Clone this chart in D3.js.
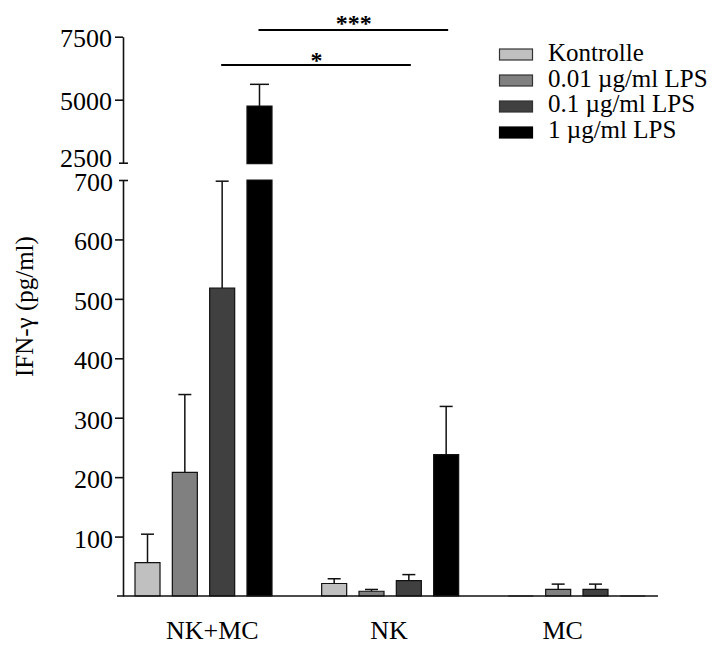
<!DOCTYPE html>
<html>
<head>
<meta charset="utf-8">
<script src="https://cdn.jsdelivr.net/npm/d3@7"></script>
<style>
  html, body { margin: 0; padding: 0; background: #fff; }
  svg { display: block; }
  text { font-family: "Liberation Serif", "Times New Roman", serif; fill: #000; }
</style>
</head>
<body>
<svg id="chart" width="720" height="646"></svg>
<script>
// IFN-γ release (pg/ml), mean and SD per culture and LPS dose
const groups = ["NK+MC", "NK", "MC"];
const seriesNames = ["Kontrolle", "0.01 µg/ml LPS", "0.1 µg/ml LPS", "1 µg/ml LPS"];
const kontrolle = [56, 21, 0];
const lps001 = [208, 8, 11];
const lps01 = [518, 26, 11];
const lps1 = [4750, 238, 0];
const sdKontrolle = [48, 8, 0];
const sdLps001 = [131, 3, 9];
const sdLps01 = [180, 10, 9];
const sdLps1 = [860, 81, 0];
const lowTicks = [100, 200, 300, 400, 500, 600, 700];
const highTicks = [2500, 5000, 7500];
const significance = [
  { a: "NK+MC", b: "NK", s: "0.1 µg/ml LPS", label: "*" },
  { a: "NK+MC", b: "NK", s: "1 µg/ml LPS", label: "***" }
];

const means = [kontrolle, lps001, lps01, lps1];
const sds = [sdKontrolle, sdLps001, sdLps01, sdLps1];
const fills = ["#c0c0c0", "#808080", "#404040", "#000000"];

const svg = d3.select("#chart");

// broken y axis: lower segment 0–700, upper segment 2500–7500
const breakLow = 700, breakHigh = 2500;
const yLow = d3.scaleLinear().domain([0, 700]).range([596, 180]);
const yHigh = d3.scaleLinear().domain([2500, 7500]).range([162.7, 36.7]);

const x0 = d3.scaleBand().domain(groups).range([110, 670]).paddingInner(0).paddingOuter(0);
const x1 = d3.scaleBand().domain(seriesNames).range([25, 162]).paddingInner(0.33).paddingOuter(0);

const rows = [];
groups.forEach((g, gi) => {
  seriesNames.forEach((s, si) => {
    rows.push({ g, s, si, v: means[si][gi], sd: sds[si][gi] });
  });
});

function barPath(x, w, yTop, yBottom) {
  return `M${x},${yBottom}V${yTop}H${x + w}V${yBottom}Z`;
}

const bw = x1.bandwidth();
const barG = svg.append("g");

rows.forEach(r => {
  const x = x0(r.g) + x1(r.s);
  // lower segment
  barG.append("path")
    .attr("d", barPath(x, bw, yLow(Math.min(r.v, breakLow)), yLow(0)))
    .attr("fill", fills[r.si])
    .attr("stroke", "#111")
    .attr("stroke-width", 1.2);
  // upper segment for values beyond the break
  if (r.v > breakHigh) {
    barG.append("path")
      .attr("d", barPath(x, bw, yHigh(r.v), yHigh(breakHigh) + 1))
      .attr("fill", fills[r.si])
      .attr("stroke", "#111")
      .attr("stroke-width", 1.2);
  }
});

// error bars (upper whisker only)
rows.filter(r => r.sd > 0).forEach(r => {
  const cx = x0(r.g) + x1(r.s) + bw / 2;
  const upper = r.v > breakHigh;
  const y = upper ? yHigh : yLow;
  const cap = upper ? 19 : 13;
  const g = svg.append("g").attr("stroke", "#111").attr("stroke-width", 1.5);
  g.append("line").attr("x1", cx).attr("x2", cx).attr("y1", y(r.v)).attr("y2", y(r.v + r.sd));
  g.append("line").attr("x1", cx - cap / 2).attr("x2", cx + cap / 2)
    .attr("y1", y(r.v + r.sd)).attr("y2", y(r.v + r.sd));
});

// x baseline and group labels
svg.append("line")
  .attr("x1", 117).attr("x2", 658).attr("y1", yLow(0)).attr("y2", yLow(0))
  .attr("stroke", "#111").attr("stroke-width", 1.6);

const labelShift = [9, -1, -14];
svg.append("g").selectAll("text").data(groups).join("text")
  .attr("x", (d, i) => x0(d) + x0.bandwidth() / 2 + labelShift[i])
  .attr("y", 639)
  .attr("text-anchor", "middle")
  .attr("font-size", 26)
  .text(d => d);

// y axes
function styleAxis(g, breakValue, dyPx) {
  g.select(".domain").attr("stroke", "#111").attr("stroke-width", 1.6);
  g.selectAll(".tick line").attr("stroke", "#111").attr("stroke-width", 1.6);
  g.selectAll(".tick text")
    .attr("font-size", 26)
    .attr("font-family", "'Liberation Serif', 'Times New Roman', serif")
    .attr("fill", "#000")
    .attr("dy", dyPx);
  g.selectAll(".tick").filter(d => d === breakValue).select("line")
    .attr("x1", -4).attr("x2", 5);
}

const axisLow = svg.append("g")
  .attr("transform", "translate(123,0)")
  .call(d3.axisLeft(yLow).tickValues(lowTicks).tickFormat(d3.format("d"))
    .tickSize(8).tickSizeOuter(0).tickPadding(2));
axisLow.attr("font-family", null).attr("font-size", null);
styleAxis(axisLow, breakLow, 10.5);

const axisHigh = svg.append("g")
  .attr("transform", "translate(123,0)")
  .call(d3.axisLeft(yHigh).tickValues(highTicks).tickFormat(d3.format("d"))
    .tickSize(8).tickSizeOuter(0).tickPadding(3));
axisHigh.attr("font-family", null).attr("font-size", null);
styleAxis(axisHigh, breakHigh, 9.5);
// lowest upper label sits a little higher, clear of the break
axisHigh.selectAll(".tick").filter(d => d === breakHigh).select("text").attr("dy", 4);

// y axis title
svg.append("text")
  .attr("transform", "translate(33,377) rotate(-90)")
  .attr("text-anchor", "start")
  .attr("font-size", 25)
  .text("IFN-γ (pg/ml)");

// significance brackets
const sigY = [65, 30];
const sigTextY = [68, 31];
significance.forEach((d, i) => {
  const xa = x0(d.a) + x1(d.s) + bw / 2;
  const xb = x0(d.b) + x1(d.s) + bw / 2 + 2;
  svg.append("line")
    .attr("x1", xa - 1).attr("x2", xb).attr("y1", sigY[i]).attr("y2", sigY[i])
    .attr("stroke", "#000").attr("stroke-width", 2);
  svg.append("text")
    .attr("x", (xa + xb) / 2)
    .attr("y", sigTextY[i])
    .attr("text-anchor", "middle")
    .attr("font-family", "'Liberation Sans', Arial, sans-serif")
    .attr("font-weight", "bold")
    .attr("font-size", 24)
    .text(d.label);
});

// legend
const legend = svg.append("g");
seriesNames.forEach((s, i) => {
  legend.append("rect")
    .attr("x", 499.5).attr("y", 49 + 26 * i)
    .attr("width", 33).attr("height", 11)
    .attr("fill", fills[i])
    .attr("stroke", i === 3 ? "#000" : "#333")
    .attr("stroke-width", 1.2);
  legend.append("text")
    .attr("x", 548).attr("y", 61 + 25.6 * i)
    .attr("font-size", 25)
    .text(s);
});
</script>
</body>
</html>
